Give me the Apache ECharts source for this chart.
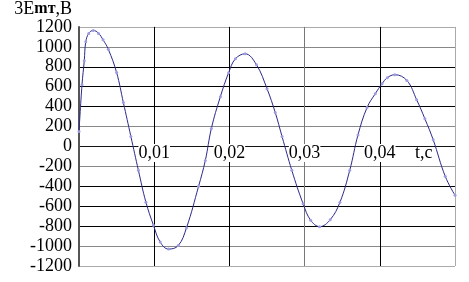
<!DOCTYPE html>
<html>
<head>
<meta charset="utf-8">
<script src="https://cdn.jsdelivr.net/npm/echarts@6/dist/echarts.min.js"></script>
<style>
html,body{margin:0;padding:0;background:#fff;}
#c{width:469px;height:282px;}
</style>
</head>
<body>
<div id="c"></div>
<script>
var times = [0, 0.0004, 0.0007, 0.0009, 0.0013, 0.0019, 0.0026, 0.0032, 0.0039, 0.005, 0.0059, 0.0069, 0.0079, 0.0089, 0.0099, 0.0108, 0.0119, 0.0132, 0.0143, 0.0159, 0.0168, 0.0176, 0.0188, 0.0199, 0.0208, 0.0221, 0.0236, 0.025, 0.0261, 0.027, 0.0283, 0.0298, 0.0308, 0.032, 0.0334, 0.0347, 0.036, 0.0371, 0.0383, 0.0394, 0.0403, 0.041, 0.042, 0.0436, 0.0449, 0.046, 0.0471, 0.0487, 0.05];
var voltages = [150, 620, 860, 1050, 1135, 1165, 1135, 1070, 975, 742, 440, 100, -240, -560, -790, -960, -1030, -995, -815, -400, -140, 180, 500, 740, 880, 930, 820, 580, 340, 100, -240, -575, -740, -805, -736, -560, -240, 116, 390, 530, 630, 690, 720, 662, 469, 277, 67, -300, -490];
var xTicks = [0, 0.01, 0.02, 0.03, 0.04, 0.05];
var xTickLabels = ['', '0,01', '0,02', '0,03', '0,04', ''];
var xName = 't,с';
var yName = ['3E', 'mт', ',В'];

var points = times.map(function (t, i) { return [t, voltages[i]]; });
var font = '"Liberation Serif", "DejaVu Serif", serif';

function xLabel(v) {
  var idx = xTicks.findIndex(function (t) { return Math.abs(t - v) < 1e-9; });
  return idx >= 0 ? xTickLabels[idx] : '';
}

var chart = echarts.init(document.getElementById('c'), null, {renderer: 'canvas'});
chart.setOption({
  backgroundColor: '#fff',
  animation: false,
  grid: [
    {left: 79, right: 14, top: 16, bottom: 16, containLabel: false},
    {left: 79, right: 14, top: 16, height: 126, containLabel: false}
  ],
  xAxis: [{
    type: 'value',
    gridIndex: 0,
    min: xTicks[0],
    max: xTicks[xTicks.length - 1],
    interval: 0.01,
    axisLine: {show: false},
    axisTick: {show: false},
    axisLabel: {show: false},
    splitLine: {show: true, lineStyle: {color: ['#555', '#000', '#000', '#777', '#000', '#aaa'], width: 1}}
  }, {
    type: 'value',
    gridIndex: 1,
    z: 1,
    position: 'bottom',
    min: xTicks[0],
    max: xTicks[xTicks.length - 1],
    interval: 0.01,
    name: xName,
    nameLocation: 'end',
    nameGap: -40,
    nameTextStyle: {fontFamily: font, fontSize: 18, color: '#000', verticalAlign: 'top', padding: [2, 0, 0, 0]},
    axisLine: {show: false, onZero: false},
    axisTick: {show: false},
    splitLine: {show: false},
    axisLabel: {
      margin: 2,
      fontFamily: font,
      fontSize: 18,
      color: '#000',
      backgroundColor: '#fff',
      formatter: xLabel
    }
  }],
  yAxis: [{
    type: 'value',
    gridIndex: 0,
    min: -1200,
    max: 1200,
    interval: 200,
    name: '{a|' + yName[0] + '}{b|' + yName[1] + '}{a|' + yName[2] + '}',
    nameLocation: 'end',
    nameGap: 1,
    nameTextStyle: {
      align: 'right',
      verticalAlign: 'middle',
      padding: [0, 7, 0, 0],
      rich: {
        a: {fontFamily: font, fontSize: 18, color: '#000'},
        b: {fontFamily: font, fontSize: 16, fontWeight: 'bold', color: '#000'}
      }
    },
    axisLine: {show: true, lineStyle: {color: '#555', width: 2}},
    axisTick: {show: false},
    axisLabel: {margin: 7, fontFamily: font, fontSize: 18, color: '#000', formatter: function (v) { return String(v); }},
    splitLine: {show: true, lineStyle: {color: ['#aaa', '#888', '#000', '#000', '#000', '#888', '#111', '#888', '#000', '#000', '#000', '#888', '#aaa'], width: 1}}
  }, {
    type: 'value',
    gridIndex: 1,
    show: false,
    min: 0,
    max: 1200
  }],
  series: [{
    type: 'line',
    xAxisIndex: 0,
    yAxisIndex: 0,
    data: points,
    smooth: 0.4,
    symbol: 'circle',
    symbolSize: 3,
    showSymbol: true,
    itemStyle: {color: '#9c9ce0'},
    lineStyle: {color: '#2a2a8c', width: 1}
  }]
});
</script>
</body>
</html>
